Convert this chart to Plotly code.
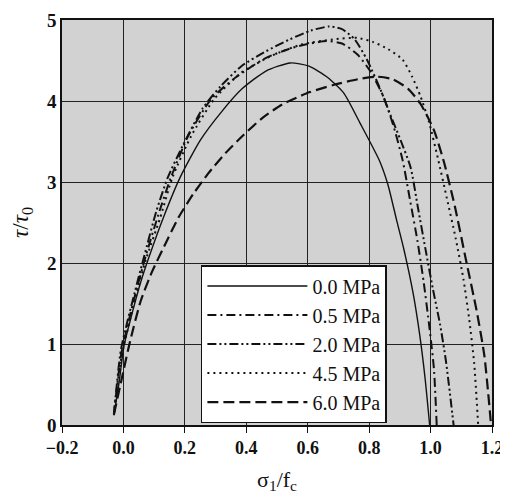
import plotly.graph_objects as go

# ---- data (sigma1/fc, tau/tau0) ----
labels = ["0.0 MPa", "0.5 MPa", "2.0 MPa", "4.5 MPa", "6.0 MPa"]

x_00 = [-0.031, -0.014, 0.002, 0.029, 0.056, 0.083, 0.129, 0.185, 0.251, 0.318, 0.386, 0.464, 0.543, 0.604, 0.665, 0.717, 0.770, 0.834, 0.861, 0.890, 0.913, 0.943, 0.964, 0.982, 0.997]
y_00 = [0.12, 0.53, 0.98, 1.39, 1.76, 2.07, 2.55, 3.06, 3.52, 3.86, 4.15, 4.37, 4.47, 4.43, 4.29, 4.10, 3.73, 3.26, 2.97, 2.52, 2.17, 1.63, 1.13, 0.58, 0.0]

x_05 = [-0.031, -0.007, 0.037, 0.073, 0.114, 0.155, 0.211, 0.287, 0.365, 0.463, 0.562, 0.661, 0.712, 0.763, 0.805, 0.847, 0.881, 0.909, 0.933, 0.957, 0.977, 0.997, 1.011, 1.02]
y_05 = [0.13, 0.88, 1.59, 2.09, 2.60, 3.06, 3.57, 4.03, 4.29, 4.53, 4.67, 4.74, 4.71, 4.57, 4.36, 4.05, 3.67, 3.27, 2.78, 2.28, 1.78, 1.18, 0.69, 0.0]

x_20 = [-0.031, -0.008, 0.037, 0.068, 0.108, 0.145, 0.192, 0.258, 0.316, 0.384, 0.462, 0.541, 0.610, 0.670, 0.710, 0.751, 0.793, 0.837, 0.869, 0.902, 0.935, 0.959, 0.983, 1.007, 1.031, 1.050, 1.075]
y_20 = [0.13, 0.93, 1.64, 2.09, 2.65, 3.06, 3.44, 3.91, 4.18, 4.43, 4.61, 4.76, 4.87, 4.92, 4.89, 4.77, 4.51, 4.14, 3.83, 3.52, 3.18, 2.68, 2.18, 1.69, 1.24, 0.79, 0.0]

x_45 = [-0.031, -0.007, 0.037, 0.073, 0.119, 0.160, 0.221, 0.297, 0.384, 0.483, 0.582, 0.681, 0.761, 0.812, 0.862, 0.909, 0.940, 0.967, 0.995, 1.024, 1.053, 1.082, 1.107, 1.126, 1.142, 1.155]
y_45 = [0.13, 0.83, 1.54, 2.04, 2.55, 3.06, 3.57, 4.03, 4.35, 4.56, 4.70, 4.76, 4.78, 4.73, 4.64, 4.51, 4.30, 4.06, 3.74, 3.29, 2.80, 2.30, 1.80, 1.30, 0.76, 0.0]

x_60 = [-0.031, -0.005, 0.022, 0.057, 0.094, 0.132, 0.179, 0.227, 0.275, 0.333, 0.391, 0.449, 0.518, 0.607, 0.686, 0.765, 0.825, 0.876, 0.927, 0.968, 1.011, 1.044, 1.079, 1.114, 1.150, 1.175, 1.197]
y_60 = [0.13, 0.58, 1.04, 1.54, 1.90, 2.20, 2.56, 2.85, 3.10, 3.36, 3.58, 3.78, 3.96, 4.11, 4.20, 4.27, 4.30, 4.27, 4.15, 3.96, 3.64, 3.24, 2.70, 2.06, 1.41, 0.86, 0.0]

x_ticks = [-0.2, 0.0, 0.2, 0.4, 0.6, 0.8, 1.0, 1.2]
y_ticks = [0, 1, 2, 3, 4, 5]

series = [
    (labels[0], x_00, y_00, "solid", 1.4),
    (labels[1], x_05, y_05, "9px,4px,2px,4px", 2.0),
    (labels[2], x_20, y_20, "9px,3px,2px,3px,2px,3px", 2.0),
    (labels[3], x_45, y_45, "2px,4px", 2.0),
    (labels[4], x_60, y_60, "11px,5px", 2.2),
]

fig = go.Figure()
for name, xs, ys, dash, w in series:
    fig.add_trace(go.Scatter(
        x=xs, y=ys, mode="lines", name=name,
        line=dict(color="#111111", width=w, dash=dash, shape="spline", smoothing=0.6),
    ))

serif = "Liberation Serif, Times New Roman, serif"

fig.update_layout(
    width=500, height=496,
    margin=dict(l=54, r=16, t=12, b=79, autoexpand=False),
    paper_bgcolor="white",
    plot_bgcolor="#d2d2d2",
    font=dict(family=serif, color="#111111"),
    showlegend=True,
    legend=dict(
        x=0.323, y=0.395, xanchor="left", yanchor="top",
        bgcolor="white", bordercolor="#111111", borderwidth=1.5,
        font=dict(family=serif, size=20, color="#111111"),
        itemwidth=100,
    ),
)

fig.update_xaxes(
    range=[-0.2, 1.2], tickvals=x_ticks, tickformat=".1f", automargin=False,
    showgrid=True, gridcolor="#222222", gridwidth=1,
    showline=True, linecolor="#111111", linewidth=1.5, mirror=True,
    ticks="outside", ticklen=6, tickcolor="#111111",
    zeroline=False,
    tickfont=dict(family=serif, size=18, color="#111111", weight="bold"),
    title=dict(text="σ<sub>1</sub>/f<sub>c</sub>", font=dict(family=serif, size=22, color="#111111"), standoff=14),
)
fig.update_yaxes(
    range=[0, 5], tickvals=y_ticks, automargin=False,
    showgrid=True, gridcolor="#222222", gridwidth=1,
    showline=True, linecolor="#111111", linewidth=1.5, mirror=True,
    ticks="", zeroline=False,
    tickfont=dict(family=serif, size=19, color="#111111", weight="bold"),
    title=dict(text="<i>τ</i>/<i>τ</i><sub>0</sub>", font=dict(family=serif, size=23, color="#111111"), standoff=12),
)

fig.write_html("out.html")
